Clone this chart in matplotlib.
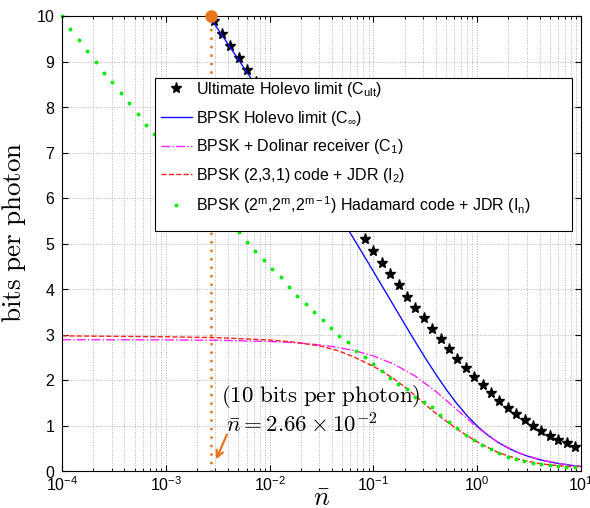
import matplotlib
matplotlib.use('Agg')
import matplotlib.pyplot as plt
from matplotlib.patches import Rectangle

matplotlib.rcParams['font.family'] = ['Liberation Sans', 'DejaVu Sans']
matplotlib.rcParams['mathtext.fontset'] = 'custom'
matplotlib.rcParams['mathtext.rm'] = 'Liberation Sans'
matplotlib.rcParams['mathtext.it'] = 'Liberation Sans:italic'

# ultimate Holevo limit (stars)
n_ult = [0.002884, 0.003475, 0.004188, 0.005047, 0.006081, 0.007328, 0.008831, 0.01064,
         0.01282, 0.01545, 0.01862, 0.02244, 0.02704, 0.03258, 0.03926, 0.04732, 0.05702,
         0.06871, 0.08279, 0.09977, 0.1202, 0.1449, 0.1746, 0.2104, 0.2535, 0.3055, 0.3681,
         0.4436, 0.5346, 0.6442, 0.7762, 0.9354, 1.127, 1.358, 1.637, 1.972, 2.377, 2.864,
         3.451, 4.159, 5.012, 6.039, 7.278, 8.770]
c_ult = [9.883, 9.614, 9.345, 9.077, 8.809, 8.540, 8.272, 8.004, 7.737, 7.470, 7.203, 6.937,
         6.671, 6.406, 6.141, 5.878, 5.616, 5.355, 5.095, 4.838, 4.582, 4.330, 4.080, 3.834,
         3.592, 3.354, 3.122, 2.896, 2.677, 2.466, 2.262, 2.067, 1.882, 1.707, 1.543, 1.389,
         1.245, 1.113, 0.991, 0.880, 0.779, 0.687, 0.605, 0.531]

# BPSK Holevo limit
n_inf = [0.002512, 0.003162, 0.003981, 0.005012, 0.00631, 0.007943, 0.01, 0.01259, 0.01585,
         0.01995, 0.02512, 0.03162, 0.03981, 0.05012, 0.0631, 0.07943, 0.1, 0.1259, 0.1585,
         0.1995, 0.2512, 0.3162, 0.3981, 0.5012, 0.631, 0.7943, 1.0, 1.259, 1.585, 1.995,
         2.512, 3.162, 3.981, 5.012, 6.31, 7.943, 10.0]
c_inf = [10.056, 9.719, 9.380, 9.041, 8.700, 8.358, 8.013, 7.667, 7.317, 6.965, 6.609, 6.249,
         5.885, 5.517, 5.144, 4.767, 4.386, 4.002, 3.617, 3.233, 2.854, 2.484, 2.130, 1.797,
         1.492, 1.221, 0.987, 0.791, 0.630, 0.501, 0.398, 0.316, 0.251, 0.1995, 0.1585,
         0.1259, 0.100]

# BPSK + Dolinar receiver
n_c1 = [1e-4, 1e-3, 0.003162, 0.01, 0.01585, 0.02512, 0.03981, 0.0631, 0.1, 0.1585, 0.2512,
        0.3981, 0.631, 1.0, 1.585, 2.512, 3.981, 6.31, 10.0]
c1 = [2.885, 2.882, 2.873, 2.847, 2.825, 2.791, 2.737, 2.655, 2.530, 2.347, 2.090, 1.753,
      1.357, 0.958, 0.628, 0.398, 0.251, 0.158, 0.100]

# BPSK (2,3,1) code + JDR
n_i2 = [1e-4, 1e-3, 0.003162, 0.01, 0.01778, 0.03162, 0.04467, 0.0631, 0.1, 0.1259, 0.1585,
        0.1995, 0.2512, 0.3162, 0.3981, 0.5012, 0.631, 0.7943, 1.0, 1.259, 1.585, 1.995,
        2.512, 3.162, 3.981, 5.012, 6.31, 7.943, 10.0]
i2 = [2.97, 2.95, 2.93, 2.88, 2.83, 2.74, 2.65, 2.52, 2.30, 2.17, 2.02, 1.85, 1.66, 1.46,
      1.27, 1.10, 0.93, 0.78, 0.64, 0.52, 0.41, 0.33, 0.26, 0.205, 0.165, 0.135, 0.113,
      0.097, 0.085]

# Hadamard code + JDR (dots)
n_had = [1.000e-4, 1.205e-4, 1.452e-4, 1.750e-4, 2.109e-4, 2.541e-4, 3.062e-4, 3.690e-4,
         4.446e-4, 5.358e-4, 6.457e-4, 7.780e-4, 9.376e-4, 1.130e-3, 1.361e-3, 1.641e-3,
         1.977e-3, 2.382e-3, 2.871e-3, 3.459e-3, 4.169e-3, 5.023e-3, 6.053e-3, 7.295e-3,
         8.790e-3, 1.059e-2, 1.276e-2, 1.538e-2, 1.854e-2, 2.234e-2, 2.692e-2, 3.243e-2,
         3.908e-2, 4.710e-2, 5.675e-2, 6.839e-2, 8.241e-2, 9.931e-2, 0.1197, 0.1442, 0.1738,
         0.2094, 0.2523, 0.3041, 0.3664, 0.4416, 0.5321, 0.6412, 0.7727, 0.9311, 1.122,
         1.352, 1.629, 1.963, 2.366, 2.851, 3.436, 4.140, 4.989, 6.012, 7.244, 8.730]
i_had = [10.0, 9.71, 9.47, 9.23, 8.99, 8.75, 8.55, 8.31, 8.09, 7.85, 7.61, 7.41, 7.18, 6.96,
         6.74, 6.52, 6.31, 6.10, 5.89, 5.67, 5.46, 5.25, 5.03, 4.84, 4.64, 4.44, 4.26, 4.05,
         3.85, 3.68, 3.49, 3.31, 3.15, 2.97, 2.83, 2.64, 2.50, 2.36, 2.19, 2.04, 1.92, 1.80,
         1.63, 1.52, 1.40, 1.23, 1.08, 0.94, 0.80, 0.69, 0.58, 0.49, 0.39, 0.31, 0.27, 0.22,
         0.18, 0.15, 0.13, 0.11, 0.092, 0.081]

n_mark = 2.74e-3
c_mark = 10

xticks = [1e-4, 1e-3, 1e-2, 1e-1, 1e0, 1e1]
xticklabels = [r'$\mathrm{10^{-4}}$', r'$\mathrm{10^{-3}}$', r'$\mathrm{10^{-2}}$',
               r'$\mathrm{10^{-1}}$', r'$\mathrm{10^{0}}$', r'$\mathrm{10^{1}}$']
yticks = list(range(11))

orange = '#e8751a'
W, H = 590, 508

fig = plt.figure(figsize=(5.9, 5.08), dpi=100)
ax = fig.add_axes([62/W, 37/H, 519/W, 455/H])

ax.plot(n_ult, c_ult, linestyle='none', marker='*', color='k', markersize=8,
        label=r'Ultimate Holevo limit (C$_{\mathrm{ult}}$)')
ax.plot(n_inf, c_inf, '-', color='#1010ff', lw=1, label=r'BPSK Holevo limit (C$_{\infty}$)')
ax.plot(n_c1, c1, '-.', color='#ff22ff', lw=1, label=r'BPSK + Dolinar receiver (C$_{\mathrm{1}}$)')
ax.plot(n_i2, i2, '--', color='#ff2020', lw=1, label=r'BPSK (2,3,1) code + JDR (I$_{\mathrm{2}}$)')
ax.plot(n_had, i_had, linestyle='none', marker='o', markersize=2.8, color='#00ee00',
        markeredgewidth=0, clip_on=False,
        label=r'BPSK (2$^{\mathrm{m}}$,2$^{\mathrm{m}}$,2$^{\mathrm{m-1}}$) Hadamard code + JDR (I$_{\mathrm{n}}$)')

# 10 bits per photon marker
ax.plot([n_mark, n_mark], [0, c_mark], color=orange, lw=2.1, linestyle=(0, (0.01, 2.9)),
        dash_capstyle='round', zorder=3)
ax.plot([n_mark], [c_mark], 'o', color=orange, markersize=8, clip_on=False, zorder=6)

ax.set_xscale('log')
ax.set_xlim(1e-4, 1e1)
ax.set_ylim(0, 10)
ax.set_xticks(xticks)
ax.set_xticklabels(xticklabels)
ax.set_yticks(yticks)
ax.set_yticklabels([r'$\mathrm{%d}$' % v for v in yticks])
ax.tick_params(which='both', direction='in', top=True, right=True, labelsize=11.5)
ax.tick_params(which='major', length=4)
ax.tick_params(which='minor', length=2)
ax.tick_params(axis='x', pad=3)
ax.tick_params(axis='y', pad=5)
ax.grid(True, which='major', linestyle=':', color='#b0b0b0', lw=0.7)
ax.grid(True, which='minor', axis='x', linestyle=':', color='#b0b0b0', lw=0.7)
for s in ax.spines.values():
    s.set_linewidth(0.8)

ax.set_ylabel(r'$\mathrm{bits\ per\ photon}$', fontsize=19.5, math_fontfamily='cm')
ax.yaxis.set_label_coords(-0.066, 0.525)
ax.set_xlabel(r'$\bar{n}$', fontsize=19, math_fontfamily='cm')
ax.xaxis.set_label_coords(0.5, -0.035)

# legend box drawn separately to match its size
box = Rectangle((155/W, 1 - 231/H), 417/W, 153/H, transform=fig.transFigure,
                facecolor='white', edgecolor='k', lw=0.8, zorder=8, clip_on=False)
ax.add_patch(box)
leg = ax.legend(loc='upper left', bbox_to_anchor=(99/519, 391/455), borderaxespad=0,
                fontsize=11.5, frameon=False, handlelength=1.94, handletextpad=0.25,
                labelspacing=0.6, borderpad=0)
leg.set_zorder(10)

fig.text(221/W, 1 - 396/H, r'$(\mathrm{10\ bits\ per\ photon})$', fontsize=16.5,
         math_fontfamily='cm', ha='left', va='center')
fig.text(226/W, 1 - 425/H, r'$\bar{n} = 2.66\times10^{-2}$', fontsize=16.5,
         math_fontfamily='cm', ha='left', va='center')
ax.annotate('', xy=(215, H - 462), xytext=(228, H - 432),
            xycoords='figure pixels', textcoords='figure pixels',
            arrowprops=dict(arrowstyle='->', color=orange, lw=1.6, mutation_scale=12))

fig.savefig('out.png', dpi=100)
